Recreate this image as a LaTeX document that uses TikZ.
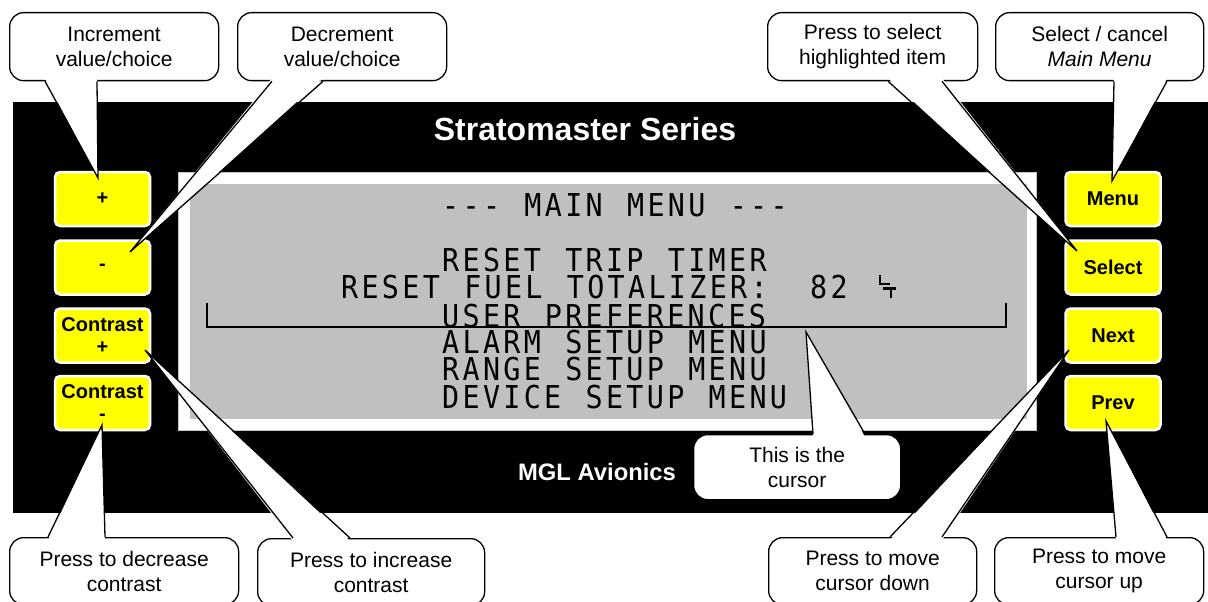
\documentclass[tikz,border=0pt]{standalone}
\usepackage{fontspec}
\setmainfont{Liberation Sans}
\newfontfamily\lcdfont[FakeStretch=0.9,LetterSpace=10.6,WordSpace=1.195,Ligatures=TeXOff]{DejaVu Sans Mono}
\usetikzlibrary{calc}
\definecolor{lcdgray}{RGB}{192,192,192}
\definecolor{btnyellow}{RGB}{255,255,0}
\tikzset{
  btn/.style={draw=white, line width=2.5pt, fill=btnyellow, rounded corners=5pt,
    minimum width=95pt, minimum height=54pt, inner sep=0pt, align=center,
    font=\bfseries\fontsize{20}{22}\selectfont},
  callbox/.style={draw=black, line width=1.3pt, fill=white, rounded corners=14pt,
    inner sep=0pt, align=center, font=\fontsize{21}{25}\selectfont},
  tailline/.style={draw=black, line width=1.3pt, line join=miter},
  lcd/.style={anchor=base west, inner sep=0pt, text=black,
    font=\lcdfont\fontsize{31.5}{31.5}\selectfont},
  cursorline/.style={line width=2.8pt, line join=miter},
  glyphline/.style={line width=2.8pt}
}
\newcommand\cbox[6]{\node[callbox, anchor=north west, minimum width=#4pt, minimum height=#5pt] (#1) at (#2,#3) {#6};}
\newcommand\tailS[4]{%
  \fill[white] ([xshift=#2pt,yshift=3pt]#1.south west) -- (#4) -- ([xshift=#3pt,yshift=3pt]#1.south west) -- cycle;
  \draw[tailline] ([xshift=#2pt]#1.south west) -- (#4) -- ([xshift=#3pt]#1.south west);}
\newcommand\tailN[4]{%
  \fill[white] ([xshift=#2pt,yshift=-3pt]#1.north west) -- (#4) -- ([xshift=#3pt,yshift=-3pt]#1.north west) -- cycle;
  \draw[tailline] ([xshift=#2pt]#1.north west) -- (#4) -- ([xshift=#3pt]#1.north west);}
\begin{document}
\begin{tikzpicture}[x=1pt,y=-1pt]
\useasboundingbox (0,0) rectangle (1208,602);
\clip (0,0) rectangle (1208,602);
\fill[white] (0,0) rectangle (1208,602);
% panel
\fill[black] (13,102) rectangle (1208,513);
\node[text=white, anchor=base, inner sep=0pt, font=\bfseries\fontsize{32}{32}\selectfont] (title) at (585,140) {Stratomaster Series};
\node[text=white, anchor=base, inner sep=0pt, font=\bfseries\fontsize{23.8}{24}\selectfont] (brand) at (597,480) {MGL Avionics};
% screen
\filldraw[fill=white, draw=gray!45, line width=0.8pt] (178,172) rectangle (1036,430);
\fill[lcdgray] (190,184) rectangle (1027,419);
% lcd text
\node[lcd] (l0) at (442,216) {--- MAIN MENU ---};
\node[lcd] (l1) at (442,271) {RESET TRIP TIMER};
\node[lcd] (l2) at (341,298) {RESET FUEL TOTALIZER:};
\node[lcd] (l2b) at (810,298) {82};
\node[lcd] (l3) at (442,327) {USER PREFERENCES};
\node[lcd] (l4) at (442,353) {ALARM SETUP MENU};
\node[lcd] (l5) at (442,380) {RANGE SETUP MENU};
\node[lcd] (l6) at (442,408) {DEVICE SETUP MENU};
% fuel unit glyph
\draw[glyphline] (880,275) -- (880,284) -- (890,284);
\draw[glyphline] (883,288.5) -- (896,288.5) (891,288.5) -- (891,298);
% cursor bracket
\draw[cursorline] (207,303) -- (207,327) -- (1006,327) -- (1006,303);
% buttons
\node[btn] (bplus) at (102.5,199) {+};
\node[btn] (bminus) at (102.5,267.5) {-};
\node[btn] (bcplus) at (102.5,335.5) {Contrast\\+};
\node[btn] (bcminus) at (102.5,403) {Contrast\\-};
\node[btn] (bmenu) at (1113,199) {Menu};
\node[btn] (bselect) at (1113,267.5) {Select};
\node[btn] (bnext) at (1113,335.5) {Next};
\node[btn] (bprev) at (1113,403) {Prev};
% tail tips
\coordinate (tipPlus) at (98,178);
\coordinate (tipMinus) at (130,252);
\coordinate (tipSel) at (1077,251);
\coordinate (tipMenu) at (1112,181);
\coordinate (tipCm) at (102,425);
\coordinate (tipCp) at (145,350);
\coordinate (tipNext) at (1069,350);
\coordinate (tipPrev) at (1106,421);
\coordinate (tipCur) at (806,332);
% callouts
\cbox{inc}{9}{12}{209}{68}{Increment\\value/choice}
\tailS{inc}{36}{88}{tipPlus}
\cbox{dec}{237}{12}{209}{68}{Decrement\\value/choice}
\tailS{dec}{35}{86}{tipMinus}
\cbox{sel}{767}{12}{210}{68}{Press to select\\highlighted item}
\tailS{sel}{121}{175}{tipSel}
\cbox{menuc}{995}{12}{208}{68}{Select / cancel\\\itshape Main Menu}
\tailS{menuc}{119}{172}{tipMenu}
\cbox{cur}{693}{434}{207}{65}{This is the\\cursor}
\tailN{cur}{120}{172}{tipCur}
\cbox{dcon}{9}{537}{229}{67}{Press to decrease\\contrast}
\tailN{dcon}{39}{96}{tipCm}
\cbox{icon}{257}{538}{227}{67}{Press to increase\\contrast}
\tailN{icon}{36}{93}{tipCp}
\cbox{mdown}{768}{537}{208}{67}{Press to move\\cursor down}
\tailN{mdown}{122}{174}{tipNext}
\cbox{mup}{994}{537}{209}{67}{Press to move\\cursor up}
\tailN{mup}{122}{173}{tipPrev}
\end{tikzpicture}
\end{document}
